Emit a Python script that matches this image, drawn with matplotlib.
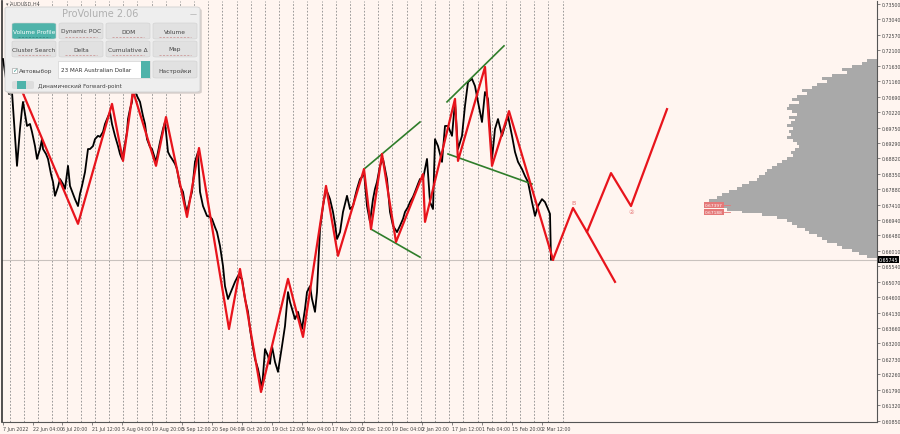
import numpy as np
import matplotlib.pyplot as plt
from matplotlib.patches import FancyBboxPatch, Rectangle

W, H = 900, 435

# AUDUSD H4 closes (x = bar position)
price_x = [3, 6, 9, 12, 15, 17, 20, 22, 23, 25, 27, 30, 32, 35, 37, 40, 42, 43, 46, 48,
           51, 53, 55, 58, 60, 63, 65, 68, 70, 73, 75, 78, 80, 82, 85, 88, 90, 93, 95, 98,
           100, 103, 105, 107, 110, 112, 115, 118, 120, 122, 125, 127, 128, 130, 132, 133,
           135, 137, 140, 143, 145, 147, 150, 152, 156, 158, 160, 163, 165, 168, 170, 172,
           175, 177, 180, 183, 185, 187, 190, 192, 195, 198, 200, 203, 207, 210, 212, 215,
           217, 220, 223, 225, 228, 232, 235, 238, 242, 245, 248, 250, 252, 255, 258, 262,
           265, 268, 270, 272, 275, 278, 280, 282, 285, 288, 290, 292, 295, 298, 302, 305,
           307, 310, 312, 315, 317, 320, 323, 326, 328, 330, 333, 335, 337, 340, 343, 345,
           347, 350, 353, 355, 357, 360, 362, 364, 367, 370, 373, 375, 377, 380, 383, 385,
           387, 390, 393, 397, 400, 403, 405, 408, 410, 413, 415, 418, 420, 423, 425, 427,
           430, 433, 435, 438, 442, 445, 448, 452, 455, 458, 462, 465, 468, 472, 475, 478,
           482, 485, 488, 490, 492, 495, 498, 502, 505, 508, 512, 515, 518, 522, 525, 528,
           532, 535, 538, 542, 545, 548, 550, 551]
close = [0.7183, 0.7123, 0.7077, 0.7083, 0.6950, 0.6859, 0.6971, 0.7031, 0.7053, 0.7016,
         0.6980, 0.6986, 0.6962, 0.6919, 0.6880, 0.6910, 0.6940, 0.6910, 0.6895, 0.6880,
         0.6834, 0.6810, 0.6768, 0.6795, 0.6819, 0.6804, 0.6789, 0.6859, 0.6798, 0.6774,
         0.6758, 0.6737, 0.6774, 0.6798, 0.6840, 0.6910, 0.6910, 0.6919, 0.6940, 0.6950,
         0.6947, 0.6962, 0.6986, 0.7001, 0.7022, 0.6986, 0.6950, 0.6919, 0.6895, 0.6880,
         0.6925, 0.6962, 0.7001, 0.7031, 0.7053, 0.7092, 0.7086, 0.7071, 0.7053, 0.7010,
         0.6986, 0.6940, 0.6916, 0.6910, 0.6871, 0.6901, 0.6931, 0.6971, 0.6992, 0.6901,
         0.6889, 0.6880, 0.6865, 0.6849, 0.6798, 0.6780, 0.6743, 0.6719, 0.6758, 0.6780,
         0.6871, 0.6901, 0.6780, 0.6737, 0.6707, 0.6704, 0.6698, 0.6673, 0.6658, 0.6616,
         0.6555, 0.6494, 0.6455, 0.6485, 0.6507, 0.6525, 0.6516, 0.6455, 0.6416, 0.6364,
         0.6325, 0.6273, 0.6243, 0.6182, 0.6303, 0.6282, 0.6258, 0.6312, 0.6264, 0.6234,
         0.6273, 0.6312, 0.6373, 0.6476, 0.6446, 0.6425, 0.6394, 0.6416, 0.6364, 0.6425,
         0.6476, 0.6494, 0.6455, 0.6416, 0.6476, 0.6667, 0.6737, 0.6789, 0.6774, 0.6758,
         0.6719, 0.6683, 0.6637, 0.6658, 0.6719, 0.6743, 0.6768, 0.6728, 0.6737, 0.6765,
         0.6789, 0.6819, 0.6825, 0.6840, 0.6737, 0.6689, 0.6758, 0.6789, 0.6810, 0.6859,
         0.6880, 0.6849, 0.6819, 0.6719, 0.6677, 0.6658, 0.6677, 0.6698, 0.6719, 0.6734,
         0.6749, 0.6765, 0.6780, 0.6804, 0.6819, 0.6819, 0.6849, 0.6880, 0.6749, 0.6728,
         0.6940, 0.6919, 0.6871, 0.6980, 0.6980, 0.6950, 0.7053, 0.6910, 0.6950, 0.7041,
         0.7113, 0.7123, 0.7101, 0.7053, 0.6992, 0.7083, 0.7062, 0.6971, 0.6880, 0.6971,
         0.7001, 0.6950, 0.6980, 0.7010, 0.6950, 0.6901, 0.6871, 0.6849, 0.6828, 0.6810,
         0.6749, 0.6707, 0.6737, 0.6758, 0.6749, 0.6728, 0.6713, 0.65745]

# red zigzag pivots
zz_x = [22, 78, 112, 123, 133, 156, 166, 187, 199, 229, 240, 261, 288, 303, 326, 338,
        364, 371, 382, 396, 423, 425, 455, 458, 485, 492, 509, 553]
zz_p = [0.7086, 0.6683, 0.7047, 0.6874, 0.7086, 0.6859, 0.7007, 0.6704, 0.6913, 0.6364,
        0.6546, 0.6173, 0.6516, 0.6340, 0.6798, 0.6586, 0.6849, 0.6667, 0.6895, 0.6628,
        0.6834, 0.6689, 0.7062, 0.6874, 0.7159, 0.6859, 0.7025, 0.65745]

# forecast paths
fc_x = [553, 573, 587, 611, 631, 667]
fc_p = [0.65745, 0.6731, 0.6658, 0.6837, 0.6737, 0.7031]
fc_alt_x = [587, 615]
fc_alt_p = [0.6658, 0.6507]

# green channel lines
green_lines = [
    ([364, 420], [0.6849, 0.6992]),
    ([371, 420], [0.6667, 0.6582]),
    ([447, 504], [0.7053, 0.7223]),
    ([448, 532], [0.6895, 0.6804]),
]

# volume profile
vp_price = [0.7178, 0.7169, 0.7160, 0.7151, 0.7142, 0.7133, 0.7124, 0.7115, 0.7106, 0.7097,
            0.7088, 0.7079, 0.7070, 0.7061, 0.7052, 0.7043, 0.7034, 0.7025, 0.7016, 0.7007,
            0.6998, 0.6989, 0.6980, 0.6971, 0.6962, 0.6953, 0.6944, 0.6935, 0.6926, 0.6917,
            0.6908, 0.6899, 0.6890, 0.6881, 0.6872, 0.6863, 0.6854, 0.6845, 0.6836, 0.6827,
            0.6818, 0.6809, 0.6800, 0.6791, 0.6782, 0.6773, 0.6764, 0.6755, 0.6746, 0.6737,
            0.6728, 0.6719, 0.6710, 0.6701, 0.6692, 0.6683, 0.6674, 0.6665, 0.6656, 0.6647,
            0.6638, 0.6629, 0.6620, 0.6611, 0.6602, 0.6593, 0.6584]
vp_vol = [10, 15, 25, 35, 30, 45, 55, 50, 60, 65, 75, 70, 80, 85, 78, 88, 90, 85, 80, 88,
          82, 86, 90, 84, 88, 86, 90, 84, 80, 78, 82, 86, 84, 90, 95, 100, 105, 110, 112, 118,
          120, 128, 135, 140, 148, 155, 160, 168, 172, 165, 150, 135, 115, 100, 90, 85, 80, 72,
          68, 60, 55, 50, 40, 35, 25, 18, 10]

current_price = 0.65745
level_labels = [(0.6740, '0.67397'), (0.6719, '0.67188')]

time_pos = [3, 33, 62, 92, 122, 152, 182, 212, 242, 272, 302, 332, 362, 392, 422, 452, 482, 512, 542]
time_labels = ['7 Jun 2022', '22 Jun 04:00', '6 Jul 20:00', '21 Jul 12:00', '5 Aug 04:00',
               '19 Aug 20:00', '5 Sep 12:00', '20 Sep 04:00', '4 Oct 20:00', '19 Oct 12:00',
               '3 Nov 04:00', '17 Nov 20:00', '2 Dec 12:00', '19 Dec 04:00', '2 Jan 20:00',
               '17 Jan 12:00', '1 Feb 04:00', '15 Feb 20:00', '2 Mar 12:00']
price_ticks = [0.73500, 0.73040, 0.72570, 0.72100, 0.71630, 0.71160, 0.70690, 0.70220,
               0.69750, 0.69290, 0.68820, 0.68350, 0.67880, 0.67410, 0.66940, 0.66480,
               0.66010, 0.65540, 0.65070, 0.64600, 0.64130, 0.63660, 0.63200, 0.62730,
               0.62260, 0.61790, 0.61320, 0.60850]

bg = '#FFF5F0'
red = '#E8141C'

fig = plt.figure(figsize=(W / 100, H / 100), dpi=100, facecolor=bg)
ax = fig.add_axes([2 / W, 1 - 423 / H, 875 / W, 421 / H], facecolor=bg)
ax.set_xlim(2, 877)
ax.set_ylim(0.60818, 0.73591)

# period separators
for gx in np.arange(9.9, 563, 14.17):
    ax.axvline(gx, color='#8A8A8A', lw=0.6, ls=(0, (2, 2)), zorder=1)

# volume profile
ax.barh(vp_price, [-v for v in vp_vol], left=877, height=0.00092, color='#A9A9A9',
        edgecolor='none', zorder=2)

ax.axhline(current_price, color='#C9C2BE', lw=0.8, zorder=2)

ax.plot(price_x, close, color='black', lw=1.3, zorder=3)
for gx, gp in green_lines:
    ax.plot(gx, gp, color='#2F7D2A', lw=1.2, zorder=4)
ax.plot(zz_x, zz_p, color=red, lw=1.6, zorder=5)
ax.plot(fc_x, fc_p, color=red, lw=1.6, zorder=5)
ax.plot(fc_alt_x, fc_alt_p, color=red, lw=1.6, zorder=5)
ax.text(fc_x[1], fc_p[1] + 0.0008, 'B', color='#E57373', fontsize=4.5, ha='center', va='bottom')
ax.text(fc_x[4], fc_p[4] - 0.0008, '②', color='#E57373', fontsize=4.5, ha='center', va='top')

for lp, lt in level_labels:
    ax.text(714, lp, lt, color='white', fontsize=3.2, ha='center', va='center', zorder=6,
            bbox=dict(boxstyle='square,pad=0.15', fc='#E57878', ec='none'))
    ax.plot([724, 730], [lp, lp], color='#E57878', lw=0.6, zorder=6)

# axes styling
for s in ['top', 'left']:
    ax.spines[s].set_visible(False)
ax.spines['right'].set_color('#555555')
ax.spines['bottom'].set_color('#555555')
ax.spines['right'].set_linewidth(0.8)
ax.spines['bottom'].set_linewidth(0.8)
ax.yaxis.tick_right()
ax.set_yticks(price_ticks)
ax.set_yticklabels(['%.5f' % p for p in price_ticks], fontsize=3.4, color='#444444')
ax.set_xticks(time_pos)
ax.set_xticklabels(time_labels, fontsize=3.4, color='#444444', ha='left')
ax.tick_params(axis='both', length=2, width=0.5, color='#555555', pad=1.2)

ax.text(879, current_price, '0.65745', transform=ax.transData, fontsize=3.4, color='white',
        va='center', ha='left', clip_on=False, zorder=7,
        bbox=dict(boxstyle='square,pad=0.2', fc='black', ec='none'))

ax.plot([2, 2], [0.60818, 0.73591], color='#333333', lw=1.2, clip_on=False)


def fx(x, y):
    return x / W, 1 - y / H


# chart caption
fig.text(*fx(6, 4), '▾ AUDUSD,H4', fontsize=3.6, color='#555555', va='center', zorder=20)

# ProVolume panel
px0, py0 = fx(5, 93)
fig.patches.append(FancyBboxPatch((px0 + 0.002, py0 - 0.004), 195 / W, 85 / H,
                                  boxstyle='round,pad=0,rounding_size=0.004',
                                  transform=fig.transFigure, fc='#D8D0CC', ec='none', zorder=9))
fig.patches.append(FancyBboxPatch((px0, py0), 195 / W, 85 / H,
                                  boxstyle='round,pad=0,rounding_size=0.004',
                                  transform=fig.transFigure, fc='#EEEEEE', ec='#CFCFCF',
                                  lw=0.6, zorder=10))
fig.text(*fx(100, 14), 'ProVolume 2.06', fontsize=7, color='#B0B0B0', ha='center',
         va='center', zorder=11)
fig.text(*fx(193, 14), '—', fontsize=5, color='#999999', ha='center', va='center', zorder=11)

buttons = [
    ('Volume Profile', 12, 24), ('Dynamic POC', 59, 24), ('DOM', 106, 24), ('Volume', 153, 24),
    ('Cluster Search', 12, 42), ('Delta', 59, 42), ('Cumulative Δ', 106, 42), ('Map', 153, 42),
]
for i, (name, bx, by) in enumerate(buttons):
    active = i == 0
    x0, y0 = fx(bx, by + 16)
    fig.patches.append(FancyBboxPatch((x0, y0), 44 / W, 16 / H,
                                      boxstyle='round,pad=0,rounding_size=0.003',
                                      transform=fig.transFigure,
                                      fc='#4FB3AA' if active else '#E1E1E1',
                                      ec='#D0D0D0', lw=0.4, zorder=11))
    fig.text(*fx(bx + 22, by + 8), name, fontsize=4.2, ha='center', va='center',
             color='white' if active else '#444444', zorder=12)
    lx0, ly = fx(bx + 6, by + 13.5)
    lx1, _ = fx(bx + 38, by + 13.5)
    fig.lines.append(plt.Line2D([lx0, lx1], [ly, ly], transform=fig.transFigure,
                                color='#C88C8C' if not active else '#2E7F78', lw=0.5,
                                ls=(0, (3, 2)), zorder=12))

# checkbox + dropdown + settings
x0, y0 = fx(12, 74)
fig.patches.append(Rectangle((x0, y0), 5 / W, 5 / H, transform=fig.transFigure,
                             fc='white', ec='#999999', lw=0.4, zorder=11))
fig.text(*fx(12.5, 70.5), '✓', fontsize=4.5, color='#3A9A90', ha='left', va='center', zorder=12)
fig.text(*fx(19, 71), 'Автовыбор', fontsize=4.2, color='#444444', va='center', zorder=12)
x0, y0 = fx(58, 79)
fig.patches.append(Rectangle((x0, y0), 92 / W, 17 / H, transform=fig.transFigure,
                             fc='white', ec='#CCCCCC', lw=0.4, zorder=11))
x0, y0 = fx(141, 79)
fig.patches.append(Rectangle((x0, y0), 9 / W, 17 / H, transform=fig.transFigure,
                             fc='#4FB3AA', ec='none', zorder=12))
fig.text(*fx(61, 71), '23 MAR Australian Dollar', fontsize=4.1, color='#333333',
         va='center', zorder=12)
x0, y0 = fx(153, 79)
fig.patches.append(FancyBboxPatch((x0, y0), 44 / W, 17 / H,
                                  boxstyle='round,pad=0,rounding_size=0.003',
                                  transform=fig.transFigure, fc='#E1E1E1', ec='#D0D0D0',
                                  lw=0.4, zorder=11))
fig.text(*fx(175, 71), 'Настройки', fontsize=4.2, color='#444444', ha='center',
         va='center', zorder=12)

# toggle
x0, y0 = fx(12, 90)
fig.patches.append(FancyBboxPatch((x0, y0), 22 / W, 8 / H,
                                  boxstyle='round,pad=0,rounding_size=0.003',
                                  transform=fig.transFigure, fc='#DDDDDD', ec='none', zorder=11))
x0, y0 = fx(17, 90)
fig.patches.append(Rectangle((x0, y0), 9 / W, 8 / H, transform=fig.transFigure,
                             fc='#4FB3AA', ec='none', zorder=12))
fig.text(*fx(38, 86), 'Динамический Forward-point', fontsize=4.1, color='#444444',
         va='center', zorder=12)

fig.savefig('out.png', dpi=100, facecolor=bg)
